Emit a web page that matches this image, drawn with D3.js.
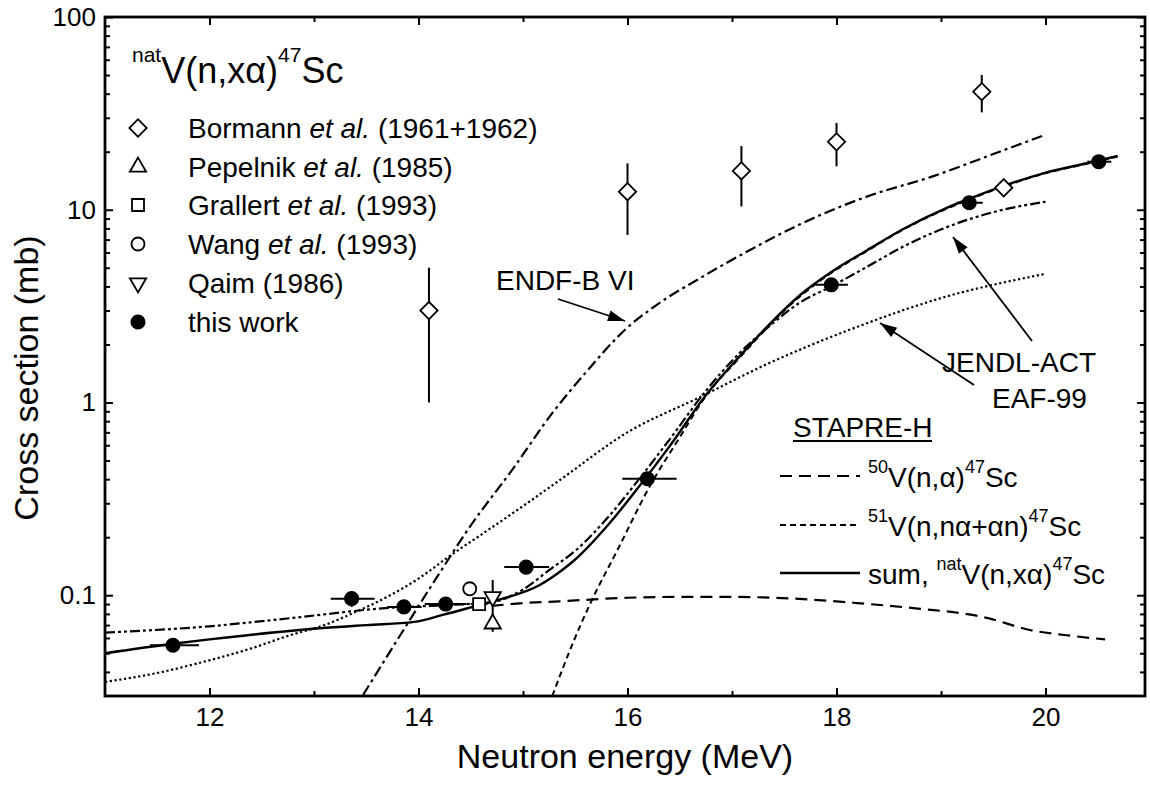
<!DOCTYPE html>
<html><head><meta charset="utf-8">
<script src="https://cdn.jsdelivr.net/npm/d3@7"></script>
<style>
body{margin:0;background:#fff}
svg{display:block}
text{font-family:"Liberation Sans",Arial,Helvetica,sans-serif;fill:#000}
</style>
</head><body>
<svg id="chart" width="1150" height="790"></svg>
<script>
// ---------- tick data ----------
const xMajorTicks = [12, 14, 16, 18, 20];
const xMinorTicks = [13, 15, 17, 19];
const yMajorTicks = [0.1, 1, 10, 100];
const yTickLabels = ["0.1", "1", "10", "100"];
const yMinorTicks = [0.04,0.05,0.06,0.07,0.08,0.09,0.2,0.3,0.4,0.5,0.6,0.7,0.8,0.9,2,3,4,5,6,7,8,9,20,30,40,50,60,70,80,90];

// ---------- measured data ----------
// this work (filled circles)
const thisWorkE     = [11.65, 13.36, 13.86, 14.26, 15.03, 16.19, 17.95, 19.27, 20.51];
const thisWorkEmin  = [11.43, 13.16, 13.70, 14.06, 14.82, 15.95, 17.80, 19.15, 20.40];
const thisWorkEmax  = [11.90, 13.58, 14.03, 14.46, 15.25, 16.47, 18.11, 19.40, 20.63];
const thisWorkSigma = [0.055, 0.096, 0.087, 0.090, 0.140, 0.402, 4.08, 10.87, 17.75];
const thisWorkErr   = [0.004, 0.009, 0.006, 0.006, 0.009, 0.025, 0.25, 0.7, 1.2];

// Bormann et al. (open diamonds)
const bormannE     = [14.10, 16.00, 17.09, 18.00, 19.39, 19.60];
const bormannSigma = [3.0, 12.4, 15.9, 22.5, 41.0, 13.0];
const bormannErr   = [2.0, 5.0, 5.5, 5.7, 9.0, 0];

// Pepelnik et al. (open up triangle)
const pepelnikE = [14.71], pepelnikSigma = [0.0711], pepelnikErr = [0.0065];
// Grallert et al. (open square)
const grallertE = [14.58], grallertSigma = [0.090], grallertErr = [0.004], grallertEerr = [0.08];
// Wang et al. (open circle)
const wangE = [14.49], wangSigma = [0.108], wangErr = [0.005];
// Qaim (open down triangle)
const qaimE = [14.71], qaimSigma = [0.098], qaimErr = [0.022];

// ---------- evaluations / calculations ----------
const endfE = [13.47,13.9,14.2,14.5,14.9,15.28,15.6,16.0,16.24,16.72,17.2,17.65,18.29,18.92,19.56,20.0];
const endfS = [0.0304,0.072,0.13,0.23,0.45,0.88,1.43,2.45,3.1,4.5,6.3,8.4,11.7,14.9,20.0,24.5];

const jendlE = [11,12,12.77,13.72,14.3,14.7,15.0,15.25,15.5,15.83,16.11,16.4,16.75,17.07,17.4,17.65,17.95,18.29,18.63,19.05,19.56,20.0];
const jendlS = [0.064,0.069,0.076,0.086,0.089,0.092,0.107,0.135,0.17,0.26,0.40,0.64,1.15,1.8,2.6,3.3,4.0,5.05,6.4,8.1,9.9,11.0];

const eafE = [11,11.5,11.9,12.4,12.77,13.1,13.4,13.7,14.0,14.3,14.65,15.0,15.35,16.0,16.7,17.3,18.2,19.0,20.0];
const eafS = [0.0355,0.0395,0.0445,0.053,0.062,0.070,0.082,0.098,0.122,0.160,0.215,0.29,0.395,0.70,1.07,1.55,2.47,3.48,4.65];

const v50E = [14.7,15.0,15.35,16.0,16.5,17.0,17.6,18.2,18.8,19.3,19.45,19.85,20.2,20.57];
const v50S = [0.088,0.091,0.093,0.097,0.098,0.098,0.096,0.091,0.085,0.079,0.076,0.066,0.062,0.059];

const v51E = [15.28,15.49,15.66,15.9,16.21,16.5,16.76,17.07,17.36,17.65,17.95,18.29,18.63,19.05,19.27,19.6,19.97,20.51,20.69];
const v51S = [0.030,0.0587,0.0946,0.17,0.365,0.66,1.10,1.70,2.52,3.55,4.7,6.1,7.85,10.1,11.3,13.2,15.3,17.9,18.9];

const sumE = [11.0,11.65,12.0,12.86,13.5,13.96,14.23,14.52,14.78,15.16,15.35,15.48,15.83,16.11,16.4,16.75,17.07,17.36,17.65,17.95,18.29,18.63,19.05,19.27,19.6,19.97,20.51,20.69];
const sumS = [0.050,0.056,0.059,0.066,0.070,0.0727,0.079,0.087,0.095,0.113,0.132,0.150,0.237,0.366,0.59,1.09,1.73,2.55,3.6,4.75,6.15,7.9,10.2,11.4,13.3,15.4,18.0,19.0];

// ---------- layout ----------
const L = 105, R = 1145, T = 17, B = 696;
const svg = d3.select("#chart");
const x = d3.scaleLinear().domain([11, 20.952]).range([L, R]);
const y = d3.scaleLog().domain([0.03, 100]).range([B, T]);

const zip = (a, b) => a.map((v, i) => [v, b[i]]);

svg.append("defs").append("clipPath").attr("id", "clip")
  .append("rect").attr("x", L).attr("y", T).attr("width", R - L).attr("height", B - T);

// ---------- axes ----------
function styleAxis(g) {
  g.select(".domain").remove();
  g.selectAll(".tick line").attr("stroke", "#000").attr("stroke-width", 2);
  g.selectAll("text").attr("font-size", 26).attr("fill", "#000")
    .attr("font-family", "'Liberation Sans', Arial, sans-serif");
}
svg.append("g").attr("transform", `translate(0,${B})`)
  .call(d3.axisBottom(x).tickValues(xMajorTicks).tickSizeInner(-8).tickSizeOuter(0).tickPadding(12).tickFormat(d3.format("d")))
  .call(styleAxis);
svg.append("g").attr("transform", `translate(0,${B})`)
  .call(d3.axisBottom(x).tickValues(xMinorTicks).tickSizeInner(-5).tickSizeOuter(0).tickFormat(""))
  .call(styleAxis);
svg.append("g").attr("transform", `translate(0,${T})`)
  .call(d3.axisTop(x).tickValues(xMajorTicks).tickSizeInner(-8).tickSizeOuter(0).tickFormat(""))
  .call(styleAxis);
svg.append("g").attr("transform", `translate(0,${T})`)
  .call(d3.axisTop(x).tickValues(xMinorTicks).tickSizeInner(-5).tickSizeOuter(0).tickFormat(""))
  .call(styleAxis);
svg.append("g").attr("transform", `translate(${L},0)`)
  .call(d3.axisLeft(y).tickValues(yMajorTicks).tickSizeInner(-8).tickSizeOuter(0).tickPadding(9)
    .tickFormat((d, i) => yTickLabels[i]))
  .call(styleAxis);
svg.append("g").attr("transform", `translate(${L},0)`)
  .call(d3.axisLeft(y).tickValues(yMinorTicks).tickSizeInner(-5).tickSizeOuter(0).tickFormat(""))
  .call(styleAxis);
svg.append("g").attr("transform", `translate(${R},0)`)
  .call(d3.axisRight(y).tickValues(yMajorTicks).tickSizeInner(-8).tickSizeOuter(0).tickFormat(""))
  .call(styleAxis);
svg.append("g").attr("transform", `translate(${R},0)`)
  .call(d3.axisRight(y).tickValues(yMinorTicks).tickSizeInner(-5).tickSizeOuter(0).tickFormat(""))
  .call(styleAxis);

svg.append("rect").attr("x", L).attr("y", T).attr("width", R - L).attr("height", B - T)
  .attr("fill", "none").attr("stroke", "#000").attr("stroke-width", 2.8);

// axis titles
svg.append("text").attr("x", (L + R) / 2).attr("y", 768).attr("text-anchor", "middle")
  .attr("font-size", 34).text("Neutron energy (MeV)");
svg.append("text").attr("transform", "translate(38,378) rotate(-90)").attr("text-anchor", "middle")
  .attr("font-size", 34).text("Cross section (mb)");

// ---------- curves ----------
const line = d3.line().x(d => x(d[0])).y(d => y(d[1])).curve(d3.curveMonotoneX);
const curves = svg.append("g").attr("clip-path", "url(#clip)").attr("fill", "none").attr("stroke", "#000");
const curveDefs = [
  {E: eafE, S: eafS, dash: "2.2,2.6", w: 2.2},
  {E: endfE, S: endfS, dash: "11,4,3,4", w: 2.2},
  {E: jendlE, S: jendlS, dash: "10,3,3,3,3,3", w: 2.2},
  {E: v50E, S: v50S, dash: "12,7", w: 2.2},
  {E: v51E, S: v51S, dash: "6,4", w: 2.0},
  {E: sumE, S: sumS, dash: null, w: 2.4}
];
curveDefs.forEach(c => {
  curves.append("path").attr("d", line(zip(c.E, c.S)))
    .attr("stroke-width", c.w).attr("stroke-dasharray", c.dash);
});

// ---------- markers ----------
const marks = svg.append("g");
function marker(type, cx, cy) {
  let p;
  const sym = d3.symbol();
  if (type === "diamond") {
    p = marks.append("path").attr("d", sym.type(d3.symbolSquare).size(150)())
      .attr("transform", `translate(${cx},${cy}) rotate(45)`);
  } else if (type === "up") {
    p = marks.append("path").attr("d", sym.type(d3.symbolTriangle).size(115)())
      .attr("transform", `translate(${cx},${cy})`);
  } else if (type === "down") {
    p = marks.append("path").attr("d", sym.type(d3.symbolTriangle).size(115)())
      .attr("transform", `translate(${cx},${cy}) rotate(180)`);
  } else if (type === "square") {
    p = marks.append("path").attr("d", sym.type(d3.symbolSquare).size(144)())
      .attr("transform", `translate(${cx},${cy})`);
  } else if (type === "circle") {
    p = marks.append("path").attr("d", sym.type(d3.symbolCircle).size(133)())
      .attr("transform", `translate(${cx},${cy})`);
  } else {
    p = marks.append("path").attr("d", sym.type(d3.symbolCircle).size(180)())
      .attr("transform", `translate(${cx},${cy})`);
  }
  if (type === "filled") p.attr("fill", "#000").attr("stroke", "none");
  else p.attr("fill", "#fff").attr("stroke", "#000").attr("stroke-width", 1.8);
}
function vbar(E, s, e) {
  if (!e) return;
  marks.append("line").attr("x1", x(E)).attr("x2", x(E))
    .attr("y1", y(s + e)).attr("y2", y(Math.max(s - e, 0.0301)))
    .attr("stroke", "#000").attr("stroke-width", 2);
}
function hbar(E1, E2, s) {
  marks.append("line").attr("x1", x(E1)).attr("x2", x(E2)).attr("y1", y(s)).attr("y2", y(s))
    .attr("stroke", "#000").attr("stroke-width", 2);
}

// error bars first
bormannE.forEach((E, i) => vbar(E, bormannSigma[i], bormannErr[i]));
thisWorkE.forEach((E, i) => { vbar(E, thisWorkSigma[i], thisWorkErr[i]); hbar(thisWorkEmin[i], thisWorkEmax[i], thisWorkSigma[i]); });
qaimE.forEach((E, i) => vbar(E, qaimSigma[i], qaimErr[i]));
pepelnikE.forEach((E, i) => vbar(E, pepelnikSigma[i], pepelnikErr[i]));
wangE.forEach((E, i) => vbar(E, wangSigma[i], wangErr[i]));
grallertE.forEach((E, i) => { vbar(E, grallertSigma[i], grallertErr[i]); hbar(E - grallertEerr[i], E + grallertEerr[i], grallertSigma[i]); });

// symbols
bormannE.forEach((E, i) => marker("diamond", x(E), y(bormannSigma[i])));
thisWorkE.forEach((E, i) => marker("filled", x(E), y(thisWorkSigma[i])));
wangE.forEach((E, i) => marker("circle", x(E), y(wangSigma[i])));
grallertE.forEach((E, i) => marker("square", x(E), y(grallertSigma[i])));
qaimE.forEach((E, i) => marker("down", x(E), y(qaimSigma[i])));
pepelnikE.forEach((E, i) => marker("up", x(E), y(pepelnikSigma[i])));

// ---------- title ----------
const title = svg.append("text").attr("x", 132).attr("y", 83).attr("font-size", 36);
title.append("tspan").attr("font-size", 21).attr("dy", -21).text("nat");
title.append("tspan").attr("dy", 21).text("V(n,xα)");
title.append("tspan").attr("font-size", 21).attr("dy", -21).text("47");
title.append("tspan").attr("dy", 21).text("Sc");

// ---------- legend (experiments) ----------
const legendNames = [
  ["Bormann ", "et al.", " (1961+1962)"],
  ["Pepelnik ", "et al.", " (1985)"],
  ["Grallert ", "et al.", " (1993)"],
  ["Wang ", "et al.", " (1993)"],
  ["Qaim (1986)", "", ""],
  ["this work", "", ""]
];
const legendTypes = ["diamond", "up", "square", "circle", "down", "filled"];
const legendRowsY = [128, 167, 205, 244, 283, 322];
legendNames.forEach((n, i) => {
  marker(legendTypes[i], 138, legendRowsY[i]);
  const t = svg.append("text").attr("x", 188).attr("y", legendRowsY[i] + 10).attr("font-size", 28);
  t.append("tspan").text(n[0]);
  if (n[1]) t.append("tspan").attr("font-style", "italic").text(n[1]);
  if (n[2]) t.append("tspan").text(n[2]);
});

// ---------- annotation labels with arrows ----------
function arrow(x1, y1, x2, y2) {
  svg.append("line").attr("x1", x1).attr("y1", y1).attr("x2", x2).attr("y2", y2)
    .attr("stroke", "#000").attr("stroke-width", 1.8);
  const a = Math.atan2(y2 - y1, x2 - x1), len = 17, hw = 5.5;
  const bx = x2 - len * Math.cos(a), by = y2 - len * Math.sin(a);
  const px = -Math.sin(a) * hw, py = Math.cos(a) * hw;
  svg.append("path").attr("d", `M${x2},${y2}L${bx + px},${by + py}L${bx - px},${by - py}Z`).attr("fill", "#000");
}
svg.append("text").attr("x", 496).attr("y", 290).attr("font-size", 28).text("ENDF-B VI");
arrow(558, 299, 625, 321);
svg.append("text").attr("x", 942).attr("y", 372).attr("font-size", 28).text("JENDL-ACT");
arrow(1032, 341, 953, 237);
svg.append("text").attr("x", 992).attr("y", 408).attr("font-size", 28).text("EAF-99");
arrow(974, 385, 880, 323);

// ---------- STAPRE-H legend ----------
svg.append("text").attr("x", 793).attr("y", 437).attr("font-size", 28).text("STAPRE-H");
svg.append("line").attr("x1", 793).attr("x2", 932).attr("y1", 441).attr("y2", 441).attr("stroke", "#000").attr("stroke-width", 2);
const stapreDash = ["12,7", "6,4", null];
const stapreRowsY = [476, 525, 573];
const stapreLabels = [
  [["50", true], ["V(n,α)", false], ["47", true], ["Sc", false]],
  [["51", true], ["V(n,nα+αn)", false], ["47", true], ["Sc", false]],
  [["sum, ", false], ["nat", true], ["V(n,xα)", false], ["47", true], ["Sc", false]]
];
stapreRowsY.forEach((yy, i) => {
  svg.append("line").attr("x1", 780).attr("x2", 860).attr("y1", yy).attr("y2", yy)
    .attr("stroke", "#000").attr("stroke-width", i === 2 ? 2.4 : 2.2).attr("stroke-dasharray", stapreDash[i]);
  const t = svg.append("text").attr("x", 868).attr("y", yy + 11).attr("font-size", 28);
  let up = false;
  stapreLabels[i].forEach(([s, sup]) => {
    const ts = t.append("tspan").text(s);
    if (sup && !up) { ts.attr("dy", -14).attr("font-size", 18); up = true; }
    else if (sup) { ts.attr("font-size", 18); }
    else if (!sup && up) { ts.attr("dy", 14); up = false; }
  });
});
</script>
</body></html>
